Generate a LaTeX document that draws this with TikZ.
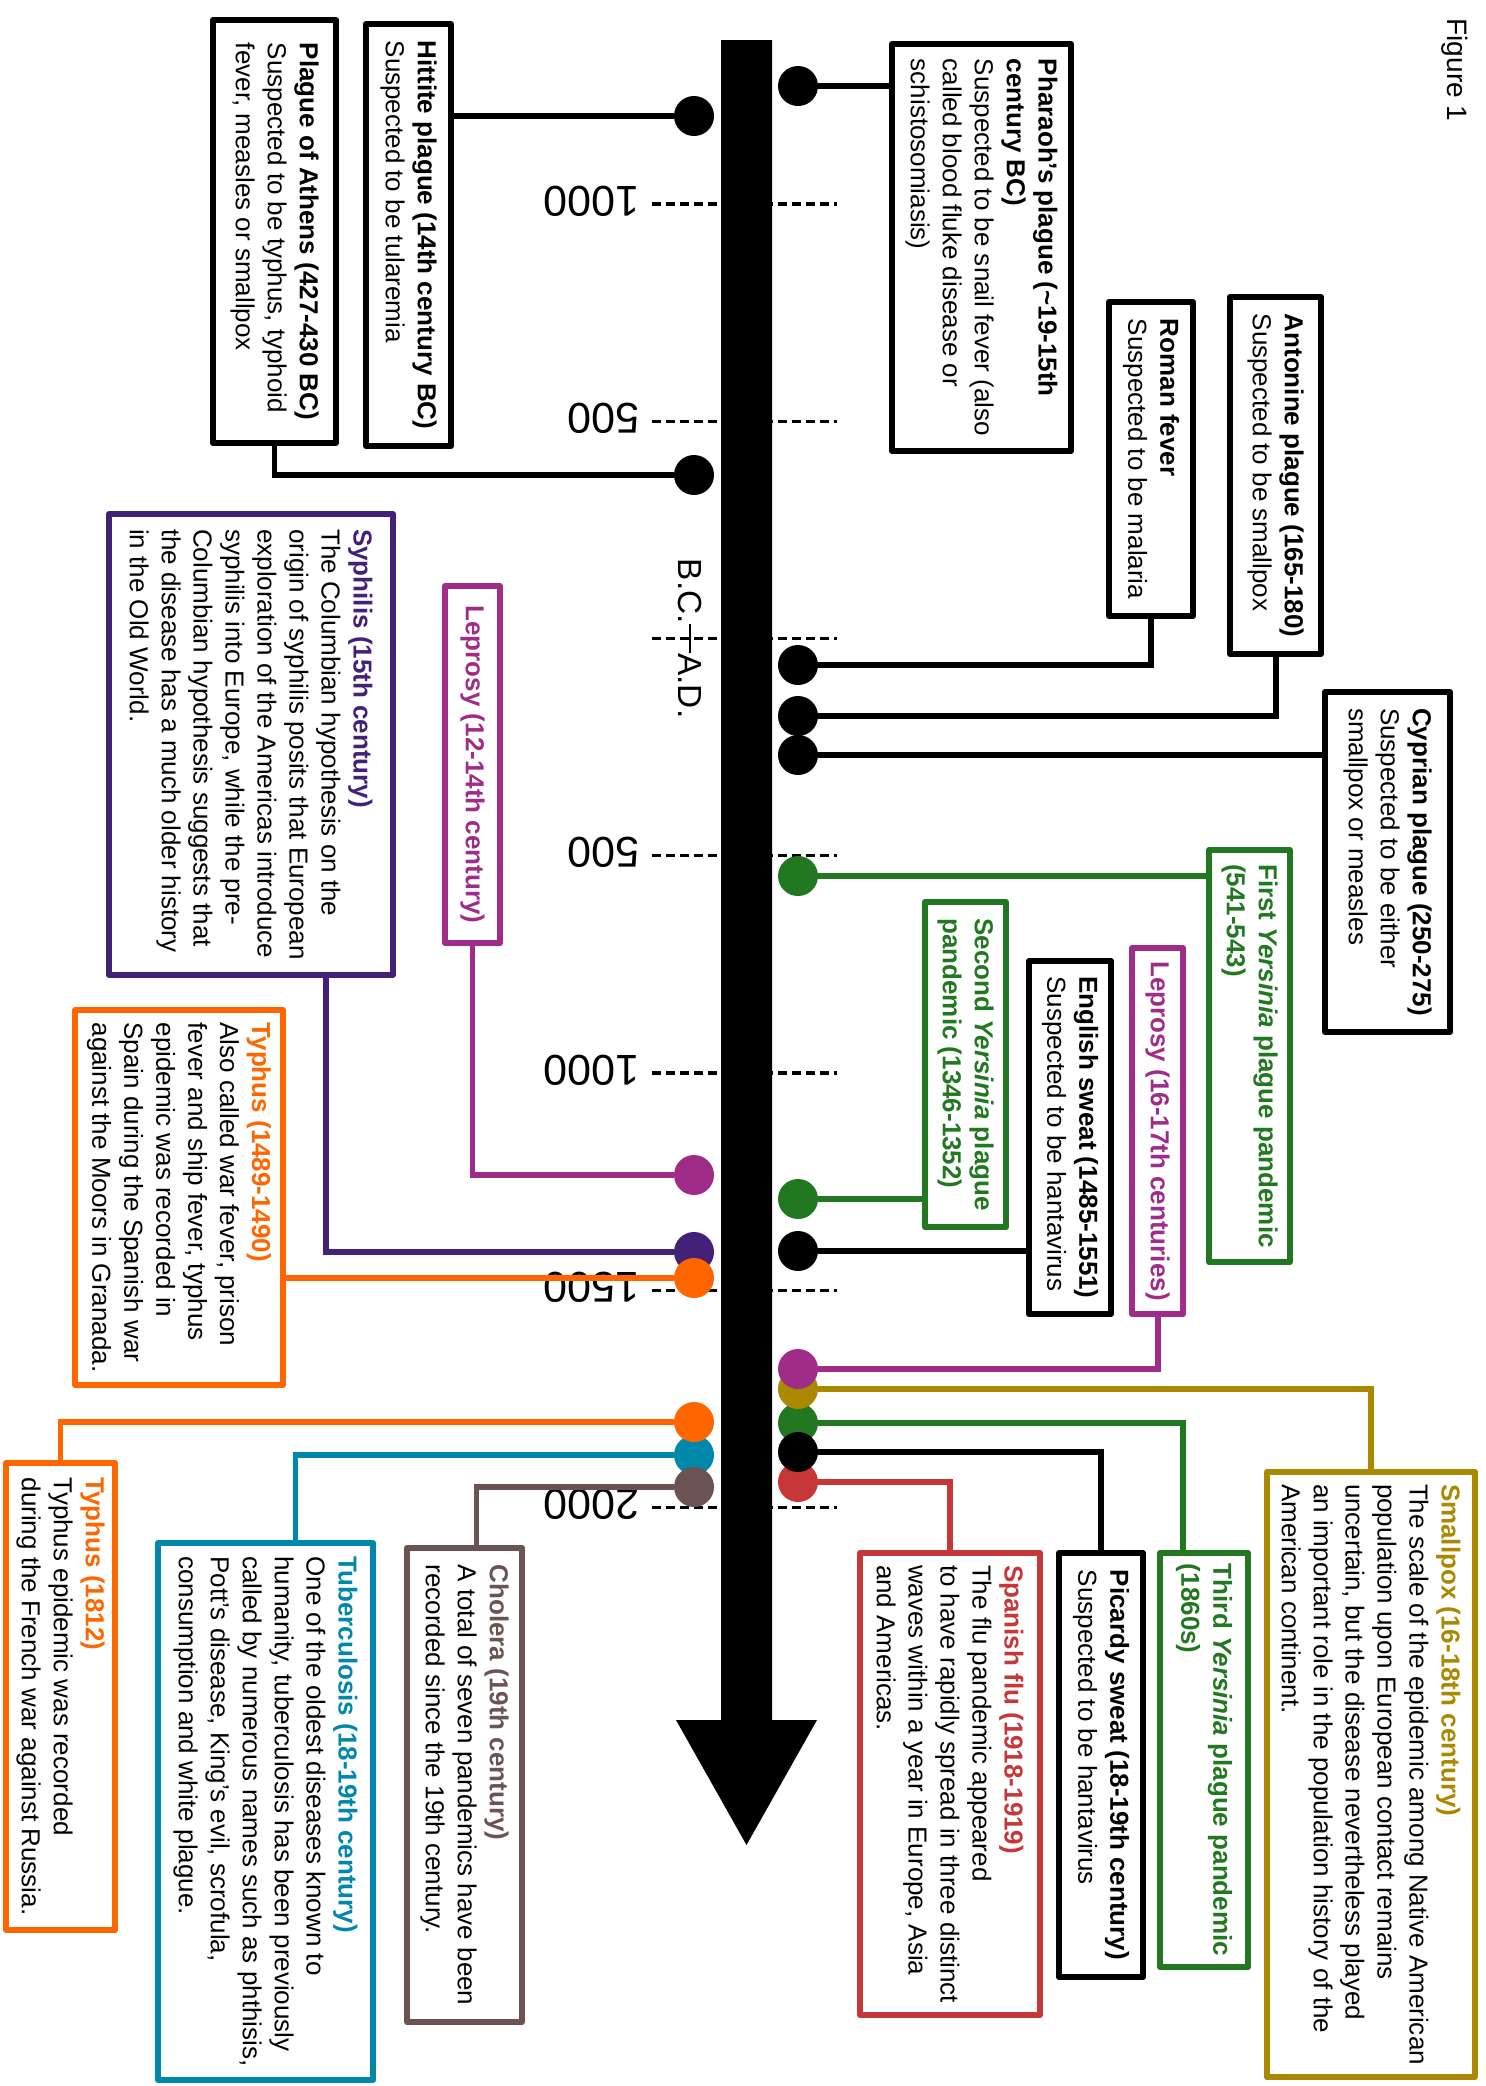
\documentclass[tikz,border=0pt]{standalone}
\usepackage{fontspec}
\setmainfont{Liberation Sans}
\usetikzlibrary{calc,positioning}
\definecolor{lepra}{HTML}{A02C89}
\definecolor{syph}{HTML}{442178}
\definecolor{typh}{HTML}{FF6600}
\definecolor{tuber}{HTML}{0088AA}
\definecolor{chol}{HTML}{6C5353}
\definecolor{smpox}{HTML}{AA8800}
\definecolor{yers}{HTML}{217821}
\definecolor{flu}{HTML}{C83737}
\pgfdeclarelayer{back}
\pgfsetlayers{back,main}
\newcommand{\ux}{0.02cm}
\newcommand{\boxfont}{\fontsize{14.8}{18.2}\selectfont}
\newcommand{\ttl}[2]{\textcolor{#1}{\textbf{#2}}}
\tikzset{
    box/.style={draw=#1, line width=3.4pt, line join=round, fill=white, rotate=-90, align=left, inner sep=0pt, font=\boxfont},
    boxsize/.style 2 args={minimum width={#1*\ux}, minimum height={#2*\ux}},
    allbold/.style={text=#1, font=\boxfont\bfseries},
    evdot/.style={circle, fill=#1, inner sep=0pt, minimum size={40*\ux}},
    conn/.style={draw=#1, line width=3.4pt},
    yeartick/.style={line width=1.9pt, dash pattern=on 0.18cm off 0.1cm},
    yr/.style={rotate=180, anchor=west, inner sep=0pt, font=\fontsize{24.5}{29}\selectfont},
    era/.style={rotate=-90, inner sep=0pt, font=\fontsize{19}{22}\selectfont}
}

\begin{document}
\begin{tikzpicture}[x=0.02cm, y=-0.02cm]
    \useasboundingbox (0,0) rectangle (1486,2086);
    \begin{pgfonlayer}{back}
    \fill[white] (0,0) rectangle (1486,2086);
    % Draw year ticks and labels.
    \foreach \t in {-1000,-500,0,500,1000,1500,2000}
        \draw[yeartick] (652,{638.5+0.4345*\t}) -- (837,{638.5+0.4345*\t});
    \foreach \t/\lab [count=\i] in {-1000/1000,-500/500,500/500,1000/1000,1500/1500,2000/2000}
        \node[yr] (yr\i) at (640,{635.5+0.4345*\t}) {\lab};
    \end{pgfonlayer}

    % Draw time arrow.
    \fill (721,40) -- (772,40) -- (772,1720) -- (817,1720) -- (746.5,1845) -- (676,1720) -- (721,1720) -- cycle;
    \node[era, anchor=east] (bc) at (690,624) {B.C.};
    \node[era, anchor=west] (ad) at (690,653) {A.D.};
    \draw[line width=1.2pt] (bc.east) -- (ad.west);

    \node[rotate=-90, inner sep=0pt, font=\fontsize{16}{19}\selectfont] (fig) at (1455,70) {Figure 1};

    % Boxes left of the arrow.
    \node[box=black, boxsize={423}{123}] (athens) at (274.5,231.5)
        {\textbf{Plague of Athens (427-430 BC)}\\Suspected to be typhus, typhoid\\fever, measles or smallpox};
    \node[box=black, boxsize={422}{85}] (hittite) at (408.5,235)
        {\textbf{Hittite plague (14th century BC)}\\Suspected to be tularemia};
    \node[box=lepra, allbold=lepra, boxsize={357}{55}] (lepraA) at (472.5,764.5)
        {Leprosy (12-14th century)};
    \node[box=syph, boxsize={461}{284}] (syphilis) at (251,744.5)
        {\ttl{syph}{Syphilis (15th century)}\\The Columbian hypothesis on the\\origin of syphilis posits that European\\exploration of the Americas introduce\\syphilis into Europe, while the pre-\\Columbian hypothesis suggests that\\the disease has a much older history\\in the Old World.};
    \node[box=typh, boxsize={375}{208}] (typhusA) at (179,1197.5)
        {\ttl{typh}{Typhus (1489-1490)}\\Also called war fever, prison\\fever and ship fever, typhus\\epidemic was recorded in\\Spain during the Spanish war\\against the Moors in Granada.};
    \node[box=typh, boxsize={467}{109}] (typhusB) at (60.5,1696.5)
        {\ttl{typh}{Typhus (1812)}\\Typhus epidemic was recorded\\during the French war against Russia.};
    \node[box=tuber, boxsize={537}{215}] (tuber) at (265.5,1811.5)
        {\ttl{tuber}{Tuberculosis (18-19th century)}\\One of the oldest diseases known to\\humanity, tuberculosis has been previously\\called by numerous names such as phthisis,\\Pott's disease, King's evil, scrofula,\\consumption and white plague.};
    \node[box=chol, boxsize={474}{115}] (cholera) at (464.5,1785)
        {\ttl{chol}{Cholera (19th century)}\\A total of seven pandemics have been\\recorded since the 19th century.};

    % Boxes right of the arrow.
    \node[box=black, boxsize={407}{179}] (pharaoh) at (981.5,247.5)
        {\textbf{Pharaoh's plague (\textasciitilde19-15th}\\\textbf{century BC)}\\Suspected to be snail fever (also\\called blood fluke disease or\\schistosomiasis)};
    \node[box=black, boxsize={314}{84}] (roman) at (1151,459)
        {\textbf{Roman fever}\\Suspected to be malaria};
    \node[box=black, boxsize={357}{91}] (antonine) at (1275.5,475.5)
        {\textbf{Antonine plague (165-180)}\\Suspected to be smallpox};
    \node[box=black, boxsize={340}{125}] (cyprian) at (1387.5,862)
        {\textbf{Cyprian plague (250-275)}\\Suspected to be either\\smallpox or measles};
    \node[box=yers, allbold=yers, boxsize={412}{81}] (yersA) at (1249.5,1056)
        {First \textit{Yersinia} plague pandemic\\(541-543)};
    \node[box=yers, allbold=yers, boxsize={325}{81}] (yersB) at (965.5,1064.5)
        {Second \textit{Yersinia} plague\\pandemic (1346-1352)};
    \node[box=black, boxsize={353}{82}] (english) at (1070,1137.5)
        {\textbf{English sweat (1485-1551)}\\Suspected to be hantavirus};
    \node[box=lepra, allbold=lepra, boxsize={366}{51}] (lepraB) at (1157.5,1131)
        {Leprosy (16-17th centuries)};
    \node[box=smpox, boxsize={605}{208}] (smallpox) at (1371,1774.5)
        {\ttl{smpox}{Smallpox (16-18th century)}\\The scale of the epidemic among Native American\\population upon European contact remains\\uncertain, but the disease nevertheless played\\an important role in the population history of the\\American continent.};
    \node[box=yers, allbold=yers, boxsize={414}{88}] (yersC) at (1204,1760)
        {Third \textit{Yersinia} plague pandemic\\(1860s)};
    \node[box=black, boxsize={424}{84}] (picardy) at (1101,1765)
        {\textbf{Picardy sweat (18-19th century)}\\Suspected to be hantavirus};
    \node[box=flu, boxsize={462}{180}] (spanish) at (950,1784)
        {\ttl{flu}{Spanish flu (1918-1919)}\\The flu pandemic appeared\\to have rapidly spread in three distinct\\waves within a year in Europe, Asia\\and Americas.};

    % Draw event dots.
    \foreach \n/\y/\c in {dHittite/116/black, dAthens/475/black, dLepraA/1175/lepra, dSyph/1252/syph,
            dTyphA/1278/typh, dTuber/1455/tuber, dTyphB/1422/typh, dChol/1487/chol}
        \node[evdot=\c] (\n) at (694,\y) {};
    \foreach \n/\y/\c in {dPharaoh/86/black, dRoman/665/black, dAntonine/716/black, dCyprian/755/black,
            dYersA/876/yers, dYersB/1199/yers, dEnglish/1251/black, dFlu/1482/flu, dYersC/1423/yers,
            dPicardy/1452/black, dSmpox/1389/smpox, dLepraB/1369/lepra}
        \node[evdot=\c] (\n) at (798,\y) {};

    % Connect dots to boxes.
    \begin{pgfonlayer}{back}
    \draw[conn=black] (dHittite) -- (dHittite -| hittite.north);
    \draw[conn=black] (dAthens) -| (athens.east);
    \draw[conn=lepra] (dLepraA) -| (lepraA.east);
    \draw[conn=syph] (dSyph) -| ($(syphilis.east)+(75,0)$);
    \draw[conn=typh] (dTyphA) -- (dTyphA -| typhusA.north);
    \draw[conn=typh] (dTyphB) -| (typhusB.west);
    \draw[conn=tuber] (dTuber) -| ($(tuber.west)+(30,0)$);
    \draw[conn=chol] (dChol) -| ($(cholera.west)+(12,0)$);

    \draw[conn=black] (dPharaoh) -- (dPharaoh -| pharaoh.south);
    \draw[conn=black] (dRoman) -| (roman.east);
    \draw[conn=black] (dAntonine) -| (antonine.east);
    \draw[conn=black] (dCyprian) -- (dCyprian -| cyprian.south);
    \draw[conn=yers] (dYersA) -- (dYersA -| yersA.south);
    \draw[conn=yers] (dYersB) -- (dYersB -| yersB.south);
    \draw[conn=black] (dEnglish) -- (dEnglish -| english.south);
    \draw[conn=lepra] (dLepraB) -| (lepraB.east);
    \draw[conn=smpox] (dSmpox) -| (smallpox.west);
    \draw[conn=yers] (dYersC) -| ($(yersC.west)+(-21,0)$);
    \draw[conn=black] (dPicardy) -| (picardy.west);
    \draw[conn=flu] (dFlu) -| (spanish.west);
    \end{pgfonlayer}
\end{tikzpicture}
\end{document}
